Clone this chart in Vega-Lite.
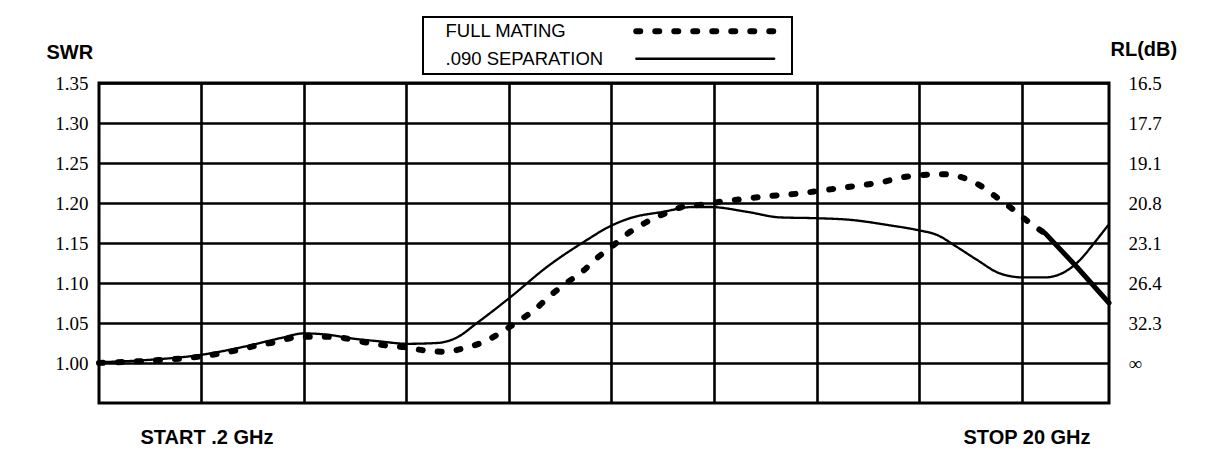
{
  "$schema": "https://vega.github.io/schema/vega-lite/v6.json",
  "autosize": {"type": "none"},
  "padding": {"left": 99, "top": 83, "right": 109, "bottom": 51},
  "width": 1010,
  "height": 320,
  "background": "white",
  "config": {
    "view": {"stroke": "black", "strokeWidth": 3},
    "font": "Liberation Sans",
    "axis": {"domain": false, "ticks": false, "tickSize": 0, "gridColor": "black", "gridWidth": 2.6, "gridOpacity": 1, "labelColor": "black", "titleColor": "black"}
  },
  "datasets": {
    "traces": [
      {"f": 0.20, "swr": 1.000, "series": "FULL MATING"},
      {"f": 1.20, "swr": 1.003, "series": "FULL MATING"},
      {"f": 2.18, "swr": 1.008, "series": "FULL MATING"},
      {"f": 2.91, "swr": 1.016, "series": "FULL MATING"},
      {"f": 3.30, "swr": 1.022, "series": "FULL MATING"},
      {"f": 3.65, "swr": 1.026, "series": "FULL MATING"},
      {"f": 4.04, "swr": 1.032, "series": "FULL MATING"},
      {"f": 4.53, "swr": 1.033, "series": "FULL MATING"},
      {"f": 5.02, "swr": 1.031, "series": "FULL MATING"},
      {"f": 5.41, "swr": 1.026, "series": "FULL MATING"},
      {"f": 5.81, "swr": 1.022, "series": "FULL MATING"},
      {"f": 6.16, "swr": 1.020, "series": "FULL MATING"},
      {"f": 6.55, "swr": 1.016, "series": "FULL MATING"},
      {"f": 6.98, "swr": 1.014, "series": "FULL MATING"},
      {"f": 7.38, "swr": 1.019, "series": "FULL MATING"},
      {"f": 7.73, "swr": 1.026, "series": "FULL MATING"},
      {"f": 8.10, "swr": 1.039, "series": "FULL MATING"},
      {"f": 8.41, "swr": 1.052, "series": "FULL MATING"},
      {"f": 8.75, "swr": 1.067, "series": "FULL MATING"},
      {"f": 9.04, "swr": 1.084, "series": "FULL MATING"},
      {"f": 9.34, "swr": 1.099, "series": "FULL MATING"},
      {"f": 9.67, "swr": 1.114, "series": "FULL MATING"},
      {"f": 9.96, "swr": 1.131, "series": "FULL MATING"},
      {"f": 10.28, "swr": 1.147, "series": "FULL MATING"},
      {"f": 10.57, "swr": 1.162, "series": "FULL MATING"},
      {"f": 10.90, "swr": 1.175, "series": "FULL MATING"},
      {"f": 11.26, "swr": 1.186, "series": "FULL MATING"},
      {"f": 11.63, "swr": 1.195, "series": "FULL MATING"},
      {"f": 12.02, "swr": 1.198, "series": "FULL MATING"},
      {"f": 12.43, "swr": 1.202, "series": "FULL MATING"},
      {"f": 12.82, "swr": 1.205, "series": "FULL MATING"},
      {"f": 13.22, "swr": 1.208, "series": "FULL MATING"},
      {"f": 13.94, "swr": 1.212, "series": "FULL MATING"},
      {"f": 14.53, "swr": 1.217, "series": "FULL MATING"},
      {"f": 15.12, "swr": 1.222, "series": "FULL MATING"},
      {"f": 15.55, "swr": 1.226, "series": "FULL MATING"},
      {"f": 15.94, "swr": 1.232, "series": "FULL MATING"},
      {"f": 16.33, "swr": 1.235, "series": "FULL MATING"},
      {"f": 16.73, "swr": 1.236, "series": "FULL MATING"},
      {"f": 17.12, "swr": 1.232, "series": "FULL MATING"},
      {"f": 17.47, "swr": 1.222, "series": "FULL MATING"},
      {"f": 17.82, "swr": 1.206, "series": "FULL MATING"},
      {"f": 18.12, "swr": 1.192, "series": "FULL MATING"},
      {"f": 18.45, "swr": 1.175, "series": "FULL MATING"},
      {"f": 18.75, "swr": 1.162, "series": "FULL MATING"},
      {"f": 0.20, "swr": 1.001, "series": ".090 SEPARATION"},
      {"f": 1.20, "swr": 1.004, "series": ".090 SEPARATION"},
      {"f": 2.18, "swr": 1.010, "series": ".090 SEPARATION"},
      {"f": 3.16, "swr": 1.022, "series": ".090 SEPARATION"},
      {"f": 3.75, "swr": 1.031, "series": ".090 SEPARATION"},
      {"f": 4.22, "swr": 1.037, "series": ".090 SEPARATION"},
      {"f": 4.73, "swr": 1.035, "series": ".090 SEPARATION"},
      {"f": 5.12, "swr": 1.031, "series": ".090 SEPARATION"},
      {"f": 5.71, "swr": 1.027, "series": ".090 SEPARATION"},
      {"f": 6.24, "swr": 1.024, "series": ".090 SEPARATION"},
      {"f": 6.83, "swr": 1.025, "series": ".090 SEPARATION"},
      {"f": 7.22, "swr": 1.032, "series": ".090 SEPARATION"},
      {"f": 7.61, "swr": 1.050, "series": ".090 SEPARATION"},
      {"f": 8.26, "swr": 1.082, "series": ".090 SEPARATION"},
      {"f": 8.98, "swr": 1.120, "series": ".090 SEPARATION"},
      {"f": 9.77, "swr": 1.154, "series": ".090 SEPARATION"},
      {"f": 10.16, "swr": 1.169, "series": ".090 SEPARATION"},
      {"f": 10.61, "swr": 1.181, "series": ".090 SEPARATION"},
      {"f": 11.26, "swr": 1.189, "series": ".090 SEPARATION"},
      {"f": 11.84, "swr": 1.195, "series": ".090 SEPARATION"},
      {"f": 12.18, "swr": 1.195, "series": ".090 SEPARATION"},
      {"f": 12.90, "swr": 1.189, "series": ".090 SEPARATION"},
      {"f": 13.55, "swr": 1.182, "series": ".090 SEPARATION"},
      {"f": 14.26, "swr": 1.181, "series": ".090 SEPARATION"},
      {"f": 14.92, "swr": 1.179, "series": ".090 SEPARATION"},
      {"f": 15.71, "swr": 1.172, "series": ".090 SEPARATION"},
      {"f": 16.26, "swr": 1.166, "series": ".090 SEPARATION"},
      {"f": 16.63, "swr": 1.160, "series": ".090 SEPARATION"},
      {"f": 17.02, "swr": 1.145, "series": ".090 SEPARATION"},
      {"f": 17.41, "swr": 1.129, "series": ".090 SEPARATION"},
      {"f": 17.86, "swr": 1.112, "series": ".090 SEPARATION"},
      {"f": 18.31, "swr": 1.107, "series": ".090 SEPARATION"},
      {"f": 18.75, "swr": 1.107, "series": ".090 SEPARATION"},
      {"f": 19.04, "swr": 1.111, "series": ".090 SEPARATION"},
      {"f": 19.37, "swr": 1.125, "series": ".090 SEPARATION"},
      {"f": 19.76, "swr": 1.154, "series": ".090 SEPARATION"},
      {"f": 19.98, "swr": 1.172, "series": ".090 SEPARATION"}
    ],
    "tail": [
      {"f": 18.75, "swr": 1.162},
      {"f": 19.37, "swr": 1.120},
      {"f": 20.0, "swr": 1.075}
    ]
  },
  "layer": [
    {
      "data": {"name": "traces"},
      "mark": {"type": "line", "interpolate": "monotone", "strokeCap": "round", "color": "black"},
      "encoding": {
        "x": {
          "field": "f", "type": "quantitative",
          "scale": {"domain": [0.2, 20], "nice": false, "zero": false},
          "axis": {
            "title": null, "grid": true,
            "values": [2.209, 4.219, 6.228, 8.238, 10.247, 12.256, 14.266, 16.275, 18.285],
            "labelExpr": "datum.value < 3 ? 'START .2 GHz' : (datum.value > 18 ? 'STOP 20 GHz' : '')",
            "labelFont": "Liberation Sans", "labelFontWeight": "bold", "labelFontSize": 20,
            "labelBaseline": "alphabetic", "labelPadding": 40, "labelOffset": 5,
            "labelOverlap": false, "labelFlush": false, "labelBound": false
          }
        },
        "y": {
          "field": "swr", "type": "quantitative",
          "scale": {"domain": [0.95, 1.35], "nice": false, "zero": false},
          "axis": {
            "orient": "left", "grid": true,
            "values": [1.0, 1.05, 1.1, 1.15, 1.2, 1.25, 1.3, 1.35],
            "format": ".2f",
            "labelFont": "Liberation Serif", "labelFontSize": 19, "labelPadding": 11,
            "title": "SWR", "titleFont": "Liberation Sans", "titleFontWeight": "bold", "titleFontSize": 20,
            "titleAngle": 0, "titleAlign": "left", "titleBaseline": "alphabetic", "titleX": -53, "titleY": -25
          }
        },
        "strokeDash": {
          "field": "series", "type": "nominal",
          "scale": {"domain": ["FULL MATING", ".090 SEPARATION"], "range": [[4, 15], [1, 0]]},
          "legend": {
            "title": null, "orient": "none", "legendX": 324, "legendY": -66, "direction": "vertical",
            "symbolType": "M -13.8 0 L 13.8 0", "symbolSize": 100,
            "symbolOffset": 268, "labelOffset": -269,
            "symbolStrokeColor": "black", "symbolFillColor": "transparent",
            "labelFont": "Liberation Sans", "labelFontSize": 18.5, "labelColor": "black", "labelLimit": 0,
            "strokeColor": "black", "fillColor": "white", "padding": 5, "rowPadding": 5.5,
            "encode": {
              "legend": {"update": {"strokeWidth": {"value": 2}}},
              "symbols": {"update": {"strokeCap": {"value": "round"}}}
            }
          }
        },
        "strokeWidth": {
          "field": "series", "type": "nominal",
          "scale": {"type": "ordinal", "domain": ["FULL MATING", ".090 SEPARATION"], "range": [6, 2.3]}
        }
      }
    },
    {
      "data": {"name": "tail"},
      "mark": {"type": "line", "color": "black", "strokeWidth": 5, "strokeCap": "round"},
      "encoding": {
        "x": {"field": "f", "type": "quantitative"},
        "y": {
          "field": "swr", "type": "quantitative",
          "scale": {"domain": [0.95, 1.35], "nice": false, "zero": false},
          "axis": {
            "orient": "right", "grid": false,
            "values": [1.0, 1.05, 1.1, 1.15, 1.2, 1.25, 1.3, 1.35],
            "format": ".2f",
            "labelExpr": "datum.label == '1.35' ? '16.5' : datum.label == '1.30' ? '17.7' : datum.label == '1.25' ? '19.1' : datum.label == '1.20' ? '20.8' : datum.label == '1.15' ? '23.1' : datum.label == '1.10' ? '26.4' : datum.label == '1.05' ? '32.3' : '∞'",
            "labelFont": "Liberation Serif", "labelFontSize": 19, "labelPadding": 19,
            "title": "RL(dB)", "titleFont": "Liberation Sans", "titleFontWeight": "bold", "titleFontSize": 20,
            "titleAngle": 0, "titleAlign": "left", "titleBaseline": "alphabetic", "titleX": 1, "titleY": -28
          }
        }
      }
    }
  ],
  "resolve": {"scale": {"y": "independent"}, "axis": {"y": "independent"}}
}
